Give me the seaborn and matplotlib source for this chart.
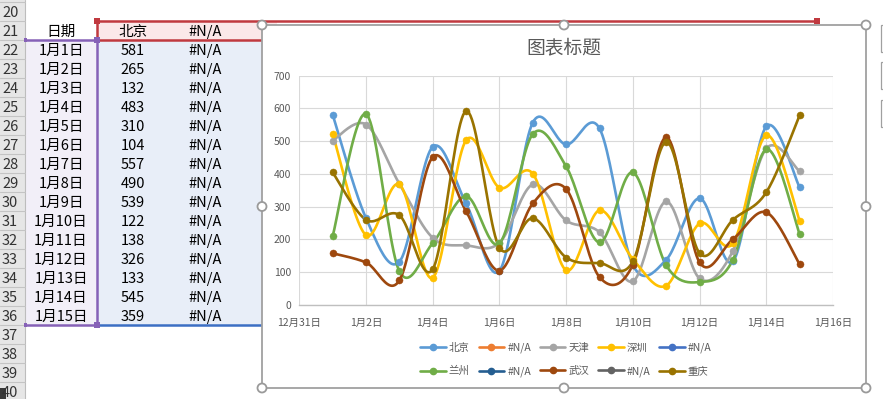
import numpy as np
import pandas as pd
import matplotlib
matplotlib.use("Agg")
import matplotlib.pyplot as plt
from matplotlib.patches import Rectangle, Circle
from matplotlib.lines import Line2D
import seaborn as sns

# ---------------- data ----------------
dates = ["1月1日", "1月2日", "1月3日", "1月4日", "1月5日", "1月6日", "1月7日", "1月8日",
         "1月9日", "1月10日", "1月11日", "1月12日", "1月13日", "1月14日", "1月15日"]
day_num = list(range(1, 16))  # days after 12月31日
beijing = [581, 265, 132, 483, 310, 104, 557, 490, 539, 122, 138, 326, 133, 545, 359]
tianjin = [502, 551, 370, 205, 182, 190, 368, 258, 222, 72, 316, 81, 165, 478, 408]
shenzhen = [522, 213, 368, 83, 503, 358, 401, 106, 289, 140, 59, 249, 188, 518, 257]
lanzhou = [210, 583, 103, 189, 332, 188, 522, 423, 191, 405, 121, 70, 138, 475, 216]
wuhan = [158, 130, 75, 452, 286, 105, 310, 354, 85, 123, 512, 130, 201, 283, 124]
chongqing = [405, 260, 274, 109, 592, 175, 265, 145, 128, 133, 498, 158, 260, 344, 579]

series_names = ["北京", "#N/A", "天津", "深圳", "#N/A", "兰州", "#N/A", "武汉", "#N/A", "重庆"]
series_values = [beijing, None, tianjin, shenzhen, None, lanzhou, None, wuhan, None, chongqing]
series_colors = ["#5B9BD5", "#ED7D31", "#A5A5A5", "#FFC000", "#4472C4",
                 "#70AD47", "#255E91", "#9E480E", "#636363", "#997300"]

x_tick_pos = [0, 2, 4, 6, 8, 10, 12, 14, 16]
x_tick_labels = ["12月31日", "1月2日", "1月4日", "1月6日", "1月8日", "1月10日", "1月12日", "1月14日", "1月16日"]
y_ticks = [0, 100, 200, 300, 400, 500, 600, 700]
row_numbers = list(range(20, 41))
chart_title = "图表标题"

# ---------------- helpers ----------------
def excel_smooth(x, y, n=24):
    pts = np.column_stack([np.asarray(x, float), np.asarray(y, float)])
    P = np.vstack([pts[0], pts, pts[-1]])
    out = []
    t = np.linspace(0, 1, n)[:, None]
    for i in range(1, len(P) - 2):
        p0, p1, p2, p3 = P[i - 1], P[i], P[i + 1], P[i + 2]
        c1 = p1 + (p2 - p0) / 6.0
        c2 = p2 - (p3 - p1) / 6.0
        seg = (1 - t) ** 3 * p1 + 3 * (1 - t) ** 2 * t * c1 + 3 * (1 - t) * t ** 2 * c2 + t ** 3 * p2
        out.append(seg if i == 1 else seg[1:])
    return np.vstack(out)

sns.set_theme(style="white")
CJK = ["Noto Sans CJK SC", "DejaVu Sans"]
plt.rcParams["font.family"] = CJK

W, H = 883, 399
fig = plt.figure(figsize=(W / 100, H / 100), dpi=100)

# ---------------- spreadsheet background ----------------
bg = fig.add_axes([0, 0, 1, 1], zorder=0)
bg.set_xlim(0, W)
bg.set_ylim(H, 0)
bg.axis("off")

ROW_H = 19
TXT_DY = 1.5
def row_top(r):
    return 21 + (r - 21) * ROW_H

# row header column
bg.add_patch(Rectangle((0, 0), 25, H, facecolor="#E6E6E6", edgecolor="none"))
bg.plot([25, 25], [0, H], color="#BDBDBD", lw=0.8)
for r in row_numbers:
    top = row_top(r)
    bg.plot([0, 25], [top, top], color="#C4C4C4", lw=0.8)
    bg.text(2, top + ROW_H / 2 + TXT_DY, str(r), ha="left", va="center", fontsize=10.5, color="#333333")
bg.add_patch(Rectangle((0, 388), 6, 11, facecolor="#3A3A3A", edgecolor="none"))

# selection fills
bg.add_patch(Rectangle((25, 40), 72, 285, facecolor="#F2EFF8", edgecolor="none"))
bg.add_patch(Rectangle((97, 40), 180, 285, facecolor="#E8EEF8", edgecolor="none"))
bg.add_patch(Rectangle((97, 21), 180, 19, facecolor="#FBE8E9", edgecolor="none"))

# borders
bg.plot([97, 817], [21, 21], color="#C0393F", lw=1.8, solid_capstyle="butt")
bg.plot([97, 97], [21, 40], color="#C0393F", lw=1.8)
bg.plot([97, 270], [40, 40], color="#C0393F", lw=1.8)
bg.plot([97, 270], [325, 325], color="#3C6FC4", lw=1.8)
bg.plot([25, 97], [40, 40], color="#8661B7", lw=1.8)
bg.plot([97, 97], [40, 325], color="#8661B7", lw=1.8)
bg.plot([25, 97], [325, 325], color="#8661B7", lw=1.8)
bg.add_patch(Rectangle((94, 18), 6, 6, facecolor="#C0393F", edgecolor="none", zorder=5))
bg.add_patch(Rectangle((814, 18), 6, 6, facecolor="#C0393F", edgecolor="none", zorder=5))
bg.add_patch(Rectangle((94, 37), 6, 6, facecolor="#8661B7", edgecolor="none", zorder=5))
bg.add_patch(Rectangle((94, 322), 6, 6, facecolor="#8661B7", edgecolor="none", zorder=5))
bg.add_patch(Rectangle((24, 38), 3, 4, facecolor="#8661B7", edgecolor="none", zorder=5))
bg.add_patch(Rectangle((24, 323), 3, 4, facecolor="#8661B7", edgecolor="none", zorder=5))

# cell texts
cy = row_top(21) + ROW_H / 2 + TXT_DY
bg.text(61, cy, "日期", ha="center", va="center", fontsize=10.5, color="#000000")
bg.text(133, cy, "北京", ha="center", va="center", fontsize=10.5, color="#000000")
bg.text(205, cy, "#N/A", ha="center", va="center", fontsize=10.5, color="#000000")
for i, (d, v) in enumerate(zip(dates, beijing)):
    yy = row_top(22 + i) + ROW_H / 2 + TXT_DY
    bg.text(61, yy, d, ha="center", va="center", fontsize=10.5, color="#000000")
    bg.text(133, yy, str(v), ha="center", va="center", fontsize=10.5, color="#000000")
    bg.text(205, yy, "#N/A", ha="center", va="center", fontsize=10.5, color="#000000")

# chart frame
CL, CT, CR, CB = 262, 25, 866, 388
bg.add_patch(Rectangle((CL, CT), CR - CL, CB - CT, facecolor="white", edgecolor="#A0A0A0", lw=1.3, zorder=6))
for (hx, hy) in [(CL, CT), ((CL + CR) / 2, CT), (CR, CT), (CL, (CT + CB) / 2), (CR, (CT + CB) / 2),
                 (CL, CB), ((CL + CR) / 2, CB), (CR, CB)]:
    bg.add_patch(Circle((hx, hy), 4.5, facecolor="white", edgecolor="#9A9A9A", lw=1.3, zorder=7))
for top in [25, 62, 100]:
    bg.add_patch(Rectangle((881, top), 12, 27, facecolor="white", edgecolor="#A0A0A0", lw=0.9, zorder=6))

bg.text((CL + CR) / 2, 48, chart_title, ha="center", va="center", fontsize=13.5, color="#595959", zorder=8)

# ---------------- chart axes ----------------
PL, PR, PT, PB = 299.3, 833, 75.7, 305
ax = fig.add_axes([PL / W, (H - PB) / H, (PR - PL) / W, (PB - PT) / H], zorder=2)
ax.set_facecolor("white")

for name, vals, col in zip(series_names, series_values, series_colors):
    if vals is None:
        continue
    curve = excel_smooth(day_num, vals)
    sns.lineplot(x=curve[:, 0], y=curve[:, 1], sort=False, estimator=None, color=col,
                 lw=1.9, ax=ax, legend=False)
    sns.scatterplot(x=day_num, y=vals, color=col, s=26, edgecolor=col, linewidth=0.3,
                    ax=ax, legend=False, zorder=3)

ax.set_xlim(0, 16)
ax.set_ylim(0, 700)
ax.set_xticks(x_tick_pos)
ax.set_xticklabels(x_tick_labels)
ax.set_yticks(y_ticks)
ax.grid(True, color="#D9D9D9", lw=0.8)
ax.set_axisbelow(True)
for s in ["top", "right", "left"]:
    ax.spines[s].set_visible(False)
ax.spines["bottom"].set_color("#BFBFBF")
ax.spines["bottom"].set_linewidth(1.0)
ax.tick_params(axis="both", length=0, labelsize=7.5, labelcolor="#595959")
ax.tick_params(axis="x", pad=9)
ax.tick_params(axis="y", pad=6)
ax.set_xlabel("")
ax.set_ylabel("")

# legend (row-major order like Excel)
handles = [Line2D([0], [0], color=c, lw=1.9, marker="o", markersize=4.5) for c in series_colors]
order = []
for col in range(5):
    order += [col, col + 5]
leg = ax.legend([handles[i] for i in order], [series_names[i] for i in order], ncol=5,
                loc="center", bbox_to_anchor=(566 / W, (H - 360) / H), bbox_transform=fig.transFigure,
                frameon=False, fontsize=7.5, handlelength=2.45, handletextpad=0.3,
                columnspacing=0.85, labelspacing=1.25, borderpad=0)
for t in leg.get_texts():
    t.set_color("#595959")

fig.savefig("out.png", dpi=100)
